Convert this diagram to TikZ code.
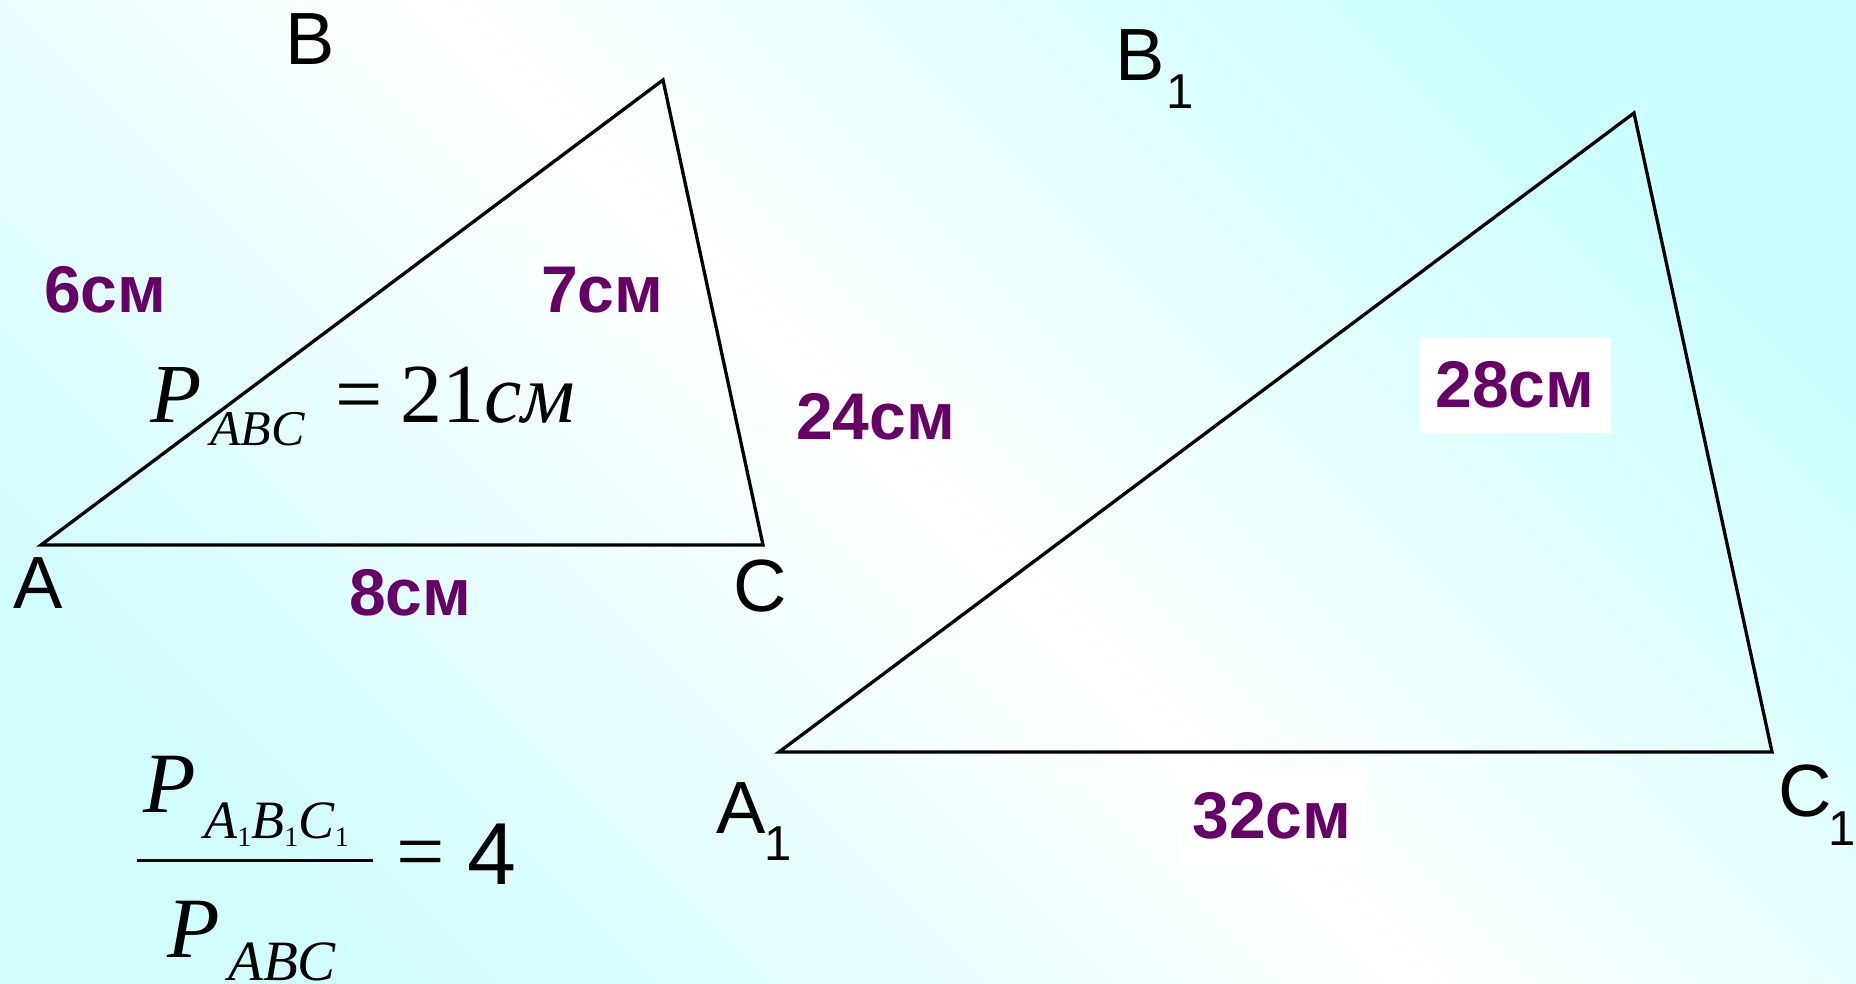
\documentclass[tikz,border=0pt]{standalone}
\usepackage{fontspec}
\setmainfont{Liberation Serif}
\newfontfamily\sansf{Liberation Sans}
\definecolor{lab}{HTML}{660066}
\definecolor{bgA}{HTML}{CCFFFF}
\definecolor{bgB}{HTML}{D2FDFF}
\begin{document}
\begin{tikzpicture}[x=1pt,y=-1pt,
  vlab/.style={inner sep=0pt, anchor=base west, font=\sansf\fontsize{74}{80}\selectfont},
  vsub/.style={inner sep=0pt, anchor=base west, font=\sansf\fontsize{49}{52}\selectfont},
  mlab/.style={inner sep=0pt, anchor=base west, text=lab, font=\sansf\bfseries\fontsize{66}{70}\selectfont},
  boxlab/.style={inner sep=0pt, anchor=center, fill=white, text=lab, font=\sansf\bfseries\fontsize{66}{70}\selectfont},
  fbig/.style={inner sep=0pt, anchor=base west, font=\fontsize{84}{90}\selectfont},
  fbigb/.style={inner sep=0pt, anchor=base west, font=\fontsize{86}{90}\selectfont},
  fsub/.style={inner sep=0pt, anchor=base west, font=\fontsize{#1}{#1}\selectfont},
  tri/.style={line width=3.3pt, line join=miter}
]
\shade[left color=bgA, right color=bgB, middle color=white, shading angle=-45] (0,0) rectangle (1856,983);
\useasboundingbox (0,0) rectangle (1856,983);

% small triangle
\coordinate (A) at (41,545);
\coordinate (B) at (663,80);
\coordinate (C) at (763,545);
\draw[tri] (A) -- (B) -- (C) -- cycle;

% large triangle
\coordinate (A1) at (779,752);
\coordinate (B1) at (1634,113);
\coordinate (C1) at (1772,752);
\draw[tri] (A1) -- (B1) -- (C1) -- cycle;

% vertex labels
\node[vlab] (lB) at (285,64) {B};
\node[vlab] (lA) at (13,608) {A};
\node[vlab] (lC) at (733,611) {C};
\node[vlab] (lB1) at (1115,80) {B};
\node[vsub] (lB1s) at (1166,108) {1};
\node[vlab] (lA1) at (716,833) {A};
\node[vsub] (lA1s) at (764,860) {1};
\node[vlab] (lC1) at (1778,816) {C};
\node[vsub] (lC1s) at (1828,845) {1};

% measures
\node[mlab] (m6) at (44,312) {6см};
\node[mlab] (m7) at (541,312) {7см};
\node[mlab] (m24) at (796,439) {24см};
\node[mlab] (m8) at (349,615) {8см};
\node[boxlab, minimum width=192pt, minimum height=96pt] (m28) at (1515,385) {28см};
\node[boxlab, minimum width=187pt, minimum height=93pt] (m32) at (1272,816) {32см};

% perimeter formula
\node[fbig] (p1) at (150,422) {\textit{P}};
\node[fsub=50] (p1s) at (210,445) {\textit{ABC}};
\node[fbig] (eq1) at (335,422) {=};
\node[fbig] (v1) at (400,422) {21\textit{см}};

% ratio formula
\node[fbigb] (p2) at (143,812) {\textit{P}};
\node[fsub=54] (p2s) at (204,838) {\textit{A}\raisebox{-8pt}{\fontsize{28}{28}\selectfont 1}\textit{B}\raisebox{-8pt}{\fontsize{28}{28}\selectfont 1}\textit{C}\raisebox{-8pt}{\fontsize{28}{28}\selectfont 1}};
\coordinate (fl) at (137,860);
\coordinate (fr) at (373,860);
\draw[line width=3pt] (fl) -- (fr);
\node[fbigb] (p3) at (167,957) {\textit{P}};
\node[fsub=57] (p3s) at (228,980) {\textit{ABC}};
\node[fbigb] (eq2) at (396,880) {=};
\node[inner sep=0pt, anchor=base west, font=\sansf\fontsize{88}{90}\selectfont] (four) at (467,884) {4};
\end{tikzpicture}
\end{document}
